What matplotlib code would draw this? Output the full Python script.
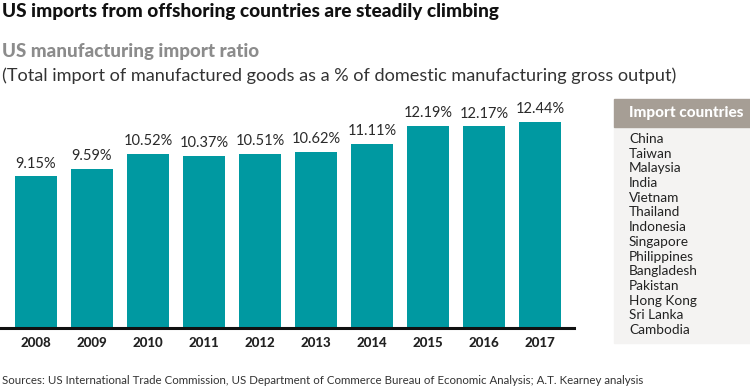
#!/usr/bin/env python3
# US manufacturing import ratio bar chart
import matplotlib
matplotlib.use("Agg")
import matplotlib.pyplot as plt
from matplotlib.patches import Rectangle

years = ["2008", "2009", "2010", "2011", "2012", "2013", "2014", "2015", "2016", "2017"]
ratio = [9.15, 9.59, 10.52, 10.37, 10.51, 10.62, 11.11, 12.19, 12.17, 12.44]
countries = ["China", "Taiwan", "Malaysia", "India", "Vietnam", "Thailand", "Indonesia",
             "Singapore", "Philippines", "Bangladesh", "Pakistan", "Hong Kong", "Sri Lanka", "Cambodia"]

plt.rcParams['font.family'] = ['Lato', 'DejaVu Sans']

W, H = 750, 386
fig = plt.figure(figsize=(W / 100, H / 100), dpi=100)

# axes: x from 0 to 574 px, baseline at y=327.5
ax = fig.add_axes([0, (H - 327.5) / H, 574 / W, 222 / H])
x = list(range(len(years)))
ax.bar(x, ratio, width=0.75, color="#0099a1")
ax.set_xlim(-36 / 56, (574 - 36) / 56)
ax.set_ylim(0, 222 / 16.52)
for xi, v in zip(x, ratio):
    ax.text(xi, v + 0.35, f"{v:.2f}%", ha="center", va="bottom", fontsize=10.5, color="#2a2a2a")
ax.set_xticks(x)
ax.set_xticklabels(years, fontsize=9.5, fontweight="black", color="#222222")
ax.tick_params(axis="x", length=0, pad=7)
ax.set_yticks([])
for s in ["top", "right", "left"]:
    ax.spines[s].set_visible(False)
ax.spines["bottom"].set_linewidth(2.2)
ax.spines["bottom"].set_color("#111111")

# titles
fig.text(2 / W, 1 - 12 / H, "US imports from offshoring countries are steadily climbing",
         fontsize=13.7, fontweight="black", color="#111111", va="center")
fig.text(2 / W, 1 - 52 / H, "US manufacturing import ratio",
         fontsize=13.5, fontweight="black", color="#8c8c8c", va="center")
fig.text(2 / W, 1 - 76 / H, "(Total import of manufactured goods as a % of domestic manufacturing gross output)",
         fontsize=13.1, color="#333333", va="center")

# country panel
fig.patches.append(Rectangle((614 / W, (H - 343) / H), (W - 614) / W, (343 - 127) / H,
                             transform=fig.transFigure, color="#f4f3f2", zorder=0))
fig.patches.append(Rectangle((614 / W, (H - 127) / H), (W - 614) / W, 28 / H,
                             transform=fig.transFigure, color="#a69e95", zorder=0))
fig.text(629 / W, 1 - 113 / H, "Import countries", fontsize=11, fontweight="black",
         color="white", va="center")
for i, c in enumerate(countries):
    fig.text(629 / W, 1 - (139 + i * 14.7) / H, c, fontsize=9.8, color="#222222", va="center")

fig.text(2 / W, 1 - 380 / H,
         "Sources: US International Trade Commission, US Department of Commerce Bureau of Economic Analysis; A.T. Kearney analysis",
         fontsize=8.3, color="#333333", va="center")

fig.savefig("out.png", dpi=100)
